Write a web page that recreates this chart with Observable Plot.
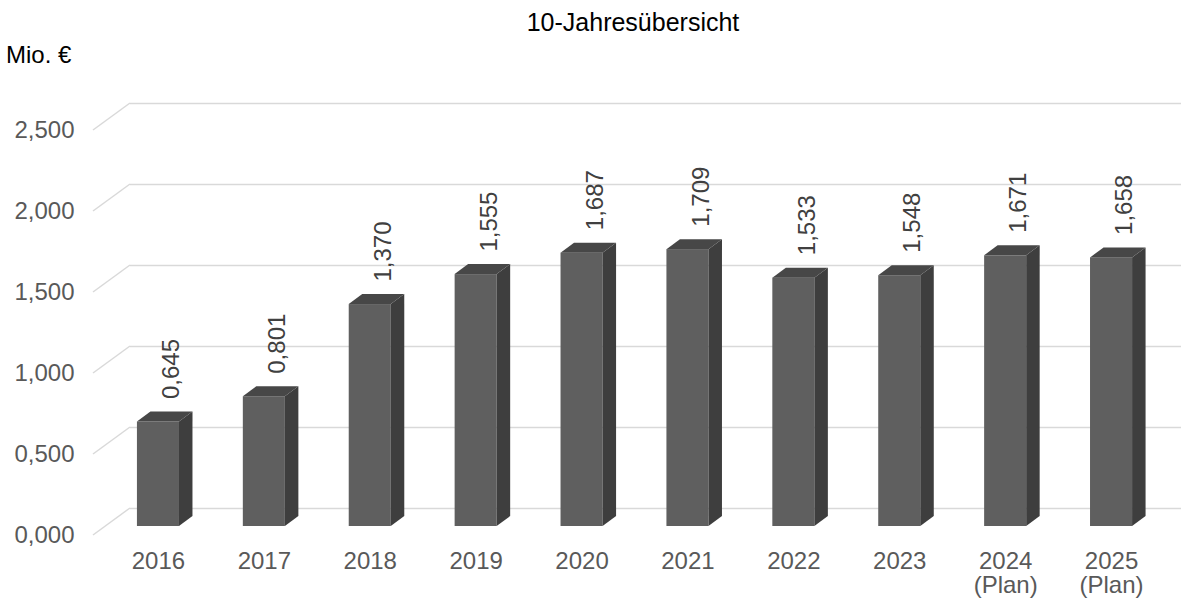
<!DOCTYPE html>
<html>
<head>
<meta charset="utf-8">
<script src="https://cdn.jsdelivr.net/npm/d3@7"></script>
<script src="https://cdn.jsdelivr.net/npm/@observablehq/plot@0.6"></script>
<style>
  html, body { margin: 0; padding: 0; background: #fff; }
  body { font-family: "Liberation Sans", Arial, sans-serif; }
  #wrap { position: relative; width: 1181px; height: 600px; overflow: hidden; }
  #title { position: absolute; left: 633px; top: 10px; transform: translateX(-50%); white-space: nowrap;
           font-size: 25px; line-height: 25px; color: #000; }
  #unit { position: absolute; left: 6px; top: 43px; font-size: 24px; line-height: 24px; color: #000; white-space: nowrap; }
  #chart { position: absolute; left: 0; top: 70px; }
  #chart svg { overflow: visible; }
</style>
</head>
<body>
<div id="wrap">
  <div id="title">10-Jahresübersicht</div>
  <div id="unit">Mio. €</div>
  <div id="chart"></div>
</div>
<script>
// ---- data ----
const years = ["2016", "2017", "2018", "2019", "2020", "2021", "2022", "2023", "2024\n(Plan)", "2025\n(Plan)"];
const values = [0.645, 0.801, 1.370, 1.555, 1.687, 1.709, 1.533, 1.548, 1.671, 1.658];
const yTicks = [0, 0.5, 1, 1.5, 2, 2.5];

const rows = years.map((year, i) => ({year, value: values[i]}));
const fmt = v => d3.format(".3f")(v).replace(".", ",");

// ---- styling ----
const FRONT = "#5f5f5f", SIDE = "#3e3e3e", TOP = "#474747", GRID = "#d9d9d9";
const DX = 13.5, DY = 10;          // bar depth offset
const WX = 37, WY = 27;            // floor depth offset for gridlines
const FRONT_OFF = 9;               // gridline front edge below bar baseline

function barFaces(index, scales) {
  const x = scales.x, y = scales.y, bw = x.bandwidth();
  const g = d3.create("svg:g");
  rows.forEach(d => {
    const x0 = x(d.year), x1 = x0 + bw, yt = y(d.value), yb = y(0);
    g.append("path")
      .attr("d", `M${x1},${yb}L${x1 + DX},${yb - DY}L${x1 + DX},${yt - DY}L${x1},${yt}Z`)
      .attr("fill", SIDE);
    g.append("path")
      .attr("d", `M${x0},${yt}L${x0 + DX},${yt - DY}L${x1 + DX},${yt - DY}L${x1},${yt}Z`)
      .attr("fill", TOP);
  });
  return g.node();
}

function gridDiagonals(index, scales, values, dims) {
  const g = d3.create("svg:g");
  const x0 = dims.marginLeft;
  yTicks.forEach(v => {
    const yy = scales.y(v);
    g.append("path")
      .attr("d", `M${x0},${yy + FRONT_OFF}L${x0 + WX},${yy + FRONT_OFF - WY}`)
      .attr("stroke", GRID).attr("stroke-width", 1.5).attr("fill", "none");
  });
  return g.node();
}

const chart = Plot.plot({
  width: 1181,
  height: 530,
  marginLeft: 93,
  marginRight: 0,
  marginTop: 51,
  marginBottom: 74,
  style: {fontFamily: "'Liberation Sans', Arial, sans-serif", fontSize: "24px", background: "#fff", overflow: "visible"},
  x: {type: "band", domain: years, range: [105, 1164], paddingInner: 0.603, paddingOuter: 0.3015, align: 0.5, round: false},
  y: {domain: [0, 2.5]},
  marks: [
    Plot.ruleY(yTicks, {dy: FRONT_OFF - WY, insetLeft: WX, stroke: GRID, strokeWidth: 1.5}),
    gridDiagonals,
    Plot.barY(rows, {x: "year", y: "value", fill: FRONT}),
    barFaces,
    Plot.text(rows, {x: "year", y: "value", text: d => fmt(d.value), rotate: -90, textAnchor: "start",
                     dx: 13, dy: -23, fontSize: 24, fill: "#404040"}),
    Plot.axisX({tickSize: 0, tickPadding: 25, fontSize: 24, lineHeight: 1.02, color: "#595959", label: null}),
    Plot.axisY(yTicks, {tickSize: 0, tickPadding: 19, dy: 9, fontSize: 24, color: "#595959", label: null,
                        tickFormat: fmt})
  ]
});
document.getElementById("chart").appendChild(chart);
</script>
</body>
</html>
